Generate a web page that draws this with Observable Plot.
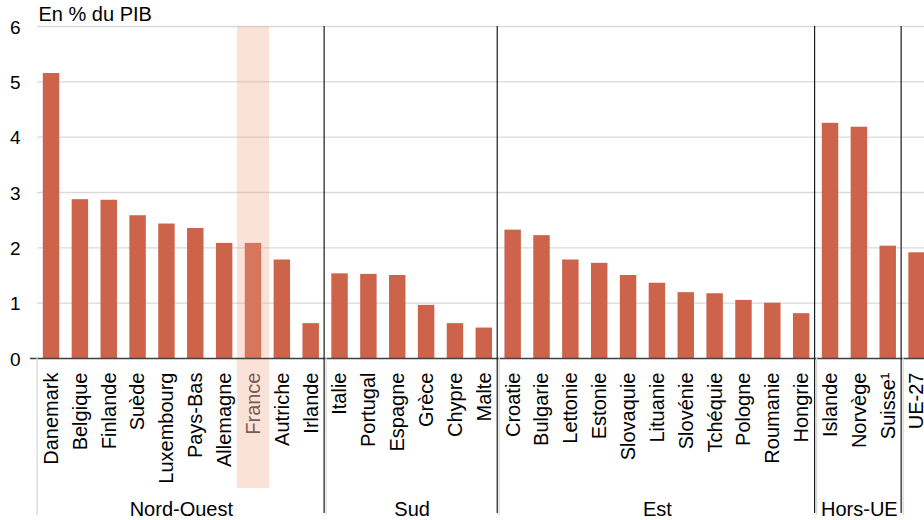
<!DOCTYPE html>
<html><head><meta charset="utf-8">
<script src="https://cdn.jsdelivr.net/npm/d3@7"></script>
<script src="https://cdn.jsdelivr.net/npm/@observablehq/plot@0.6"></script>
<style>
body{margin:0;background:#fff}
svg{font-family:"Liberation Sans",Arial,sans-serif}
</style>
</head><body><div id="chart"></div>
<script>
const countries = ["Danemark","Belgique","Finlande","Suède","Luxembourg","Pays-Bas","Allemagne","France","Autriche","Irlande",
  "Italie","Portugal","Espagne","Grèce","Chypre","Malte",
  "Croatie","Bulgarie","Lettonie","Estonie","Slovaquie","Lituanie","Slovénie","Tchéquie","Pologne","Roumanie","Hongrie",
  "Islande","Norvège","Suisse¹","UE-27"];
const values = [5.15,2.87,2.86,2.58,2.43,2.35,2.08,2.08,1.78,0.63,
  1.53,1.52,1.50,0.96,0.63,0.55,
  2.32,2.22,1.78,1.72,1.50,1.36,1.19,1.17,1.05,1.00,0.81,
  4.25,4.18,2.03,1.91];
const groupNames = ["Nord-Ouest","Sud","Est","Hors-UE"];
const groupSizes = [10,6,11,3];
const yTicks = [0,1,2,3,4,5,6];
const highlight = "France";
const title = "En % du PIB";

const data = countries.map((c,i)=>({country:c, value:values[i]}));
const xRange = [36.6, 931];
const step = (xRange[1]-xRange[0])/countries.length;
const starts = []; let acc = 0;
groupSizes.forEach(n=>{starts.push(acc); acc+=n;});
const separators = groupSizes.map((n,i)=>countries[starts[i]+n]);
const groupLabels = groupNames.map((g,i)=>{
  const n = groupSizes[i];
  return {name:g, country:countries[starts[i]+Math.floor(n/2)], dx: n%2===0 ? -step/2 : 0};
});
const FONT = 20;

const chart = Plot.plot({
  width: 924, height: 520,
  marginLeft: 37, marginRight: 0, marginTop: 26, marginBottom: 162,
  x: {domain: countries, range: xRange, round: false, paddingInner: 0.43, paddingOuter: 0.215, axis: null},
  y: {domain: [0,6], range: [358, 26], axis: null},
  style: {fontFamily: '"Liberation Sans", Arial, sans-serif', fontSize: FONT+"px", background: "#fff"},
  marks: [
    Plot.ruleY(yTicks.filter(d=>d>0), {stroke: "#d9d9d9", strokeWidth: 1.3}),
    Plot.barY(data, {x: "country", y: "value", fill: "#cd634b"}),
    Plot.barY([highlight], {x: d=>d, y1: 0, y2: 6, fill: "#f0a281", fillOpacity: 0.31,
      insetLeft: -7.8, insetRight: -7.8, insetBottom: -130}),
    Plot.ruleY([0], {stroke: "#404040", strokeWidth: 1.3, insetLeft: -7}),
    Plot.ruleX([countries[0]], {x: d=>d, y1: 0, y2: 0, dx: -step/2, insetBottom: -157, stroke: "#d9d9d9", strokeWidth: 1.3}),
    Plot.ruleX(separators, {x: d=>d, y1: 0, y2: 0, dx: -step/2+0.5, insetBottom: -157, stroke: "#d9d9d9", strokeWidth: 1.3}),
    Plot.ruleX(separators, {x: d=>d, dx: -step/2-1.5, insetBottom: -155, stroke: "#1a1a1a", strokeWidth: 1.2}),
    Plot.text(yTicks, {y: d=>d, text: d=>String(d), frameAnchor: "left", dx: -17, dy: 1, textAnchor: "end", fill: "#000", fontSize: 19}),
    Plot.text(countries, {x: d=>d, text: d=>d, frameAnchor: "bottom", dy: 14, rotate: -90, textAnchor: "end", lineAnchor: "middle",
      fill: d=> d===highlight ? "#7b5b52" : "#000", fontSize: FONT}),
    ...groupLabels.map(g=>Plot.text([g], {x: "country", text: "name", frameAnchor: "bottom", dy: 157, dx: g.dx, lineAnchor: "bottom", fill: "#000", fontSize: FONT})),
    Plot.text([title], {text: d=>d, frameAnchor: "top-left", dx: 1, dy: -6, lineAnchor: "bottom", textAnchor: "start", fill: "#000", fontSize: FONT})
  ]
});
document.getElementById("chart").appendChild(chart);
</script>
</body></html>
